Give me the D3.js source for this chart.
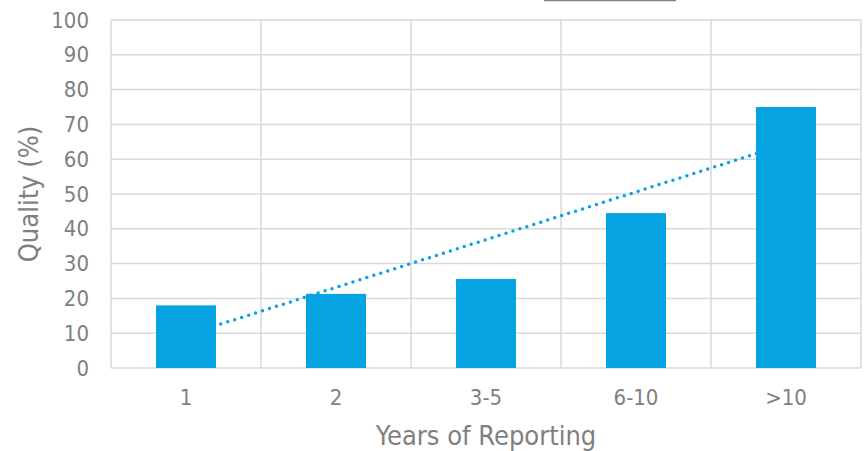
<!DOCTYPE html>
<html>
<head>
<meta charset="utf-8">
<script src="https://cdn.jsdelivr.net/npm/d3@7"></script>
<style>
  html, body { margin: 0; padding: 0; background: #fff; }
  svg { display: block; }
  text { font-family: "DejaVu Sans", sans-serif; font-stretch: condensed; fill: #7f7f7f; }
</style>
</head>
<body>
<svg id="chart" width="867" height="451"></svg>
<script>
// Reporting periods and average quality score per period
const categories = ["1", "2", "3-5", "6-10", ">10"];
const quality = [18, 21.3, 25.6, 44.5, 75];
const yTicks = [0, 10, 20, 30, 40, 50, 60, 70, 80, 90, 100];

const width = 867, height = 451;
const margin = { top: 20, right: 6, bottom: 83, left: 111 };
const svg = d3.select("#chart");

const x = d3.scaleBand()
  .domain(categories)
  .range([margin.left, width - margin.right])
  .paddingInner(0).paddingOuter(0);

const y = d3.scaleLinear()
  .domain([0, 100])
  .range([height - margin.bottom, margin.top]);

const gridColor = "#d9d9d9";

// Horizontal gridlines
svg.append("g")
  .selectAll("line")
  .data(yTicks)
  .join("line")
  .attr("x1", margin.left).attr("x2", width - margin.right)
  .attr("y1", d => y(d)).attr("y2", d => y(d))
  .attr("stroke", gridColor).attr("stroke-width", 1.5);

// Vertical gridlines at category boundaries
const bounds = categories.map(c => x(c)).concat([x(categories[categories.length - 1]) + x.bandwidth()]);
svg.append("g")
  .selectAll("line")
  .data(bounds)
  .join("line")
  .attr("x1", d => d).attr("x2", d => d)
  .attr("y1", y(100)).attr("y2", y(0))
  .attr("stroke", gridColor).attr("stroke-width", 1.5);

// Linear trendline (least squares over category index)
const n = quality.length;
const xs = d3.range(1, n + 1);
const mx = d3.mean(xs), my = d3.mean(quality);
const slope = d3.sum(xs, (v, i) => (v - mx) * (quality[i] - my)) / d3.sum(xs, v => (v - mx) ** 2);
const intercept = my - slope * mx;
const cx = i => x(categories[i]) + x.bandwidth() / 2;

svg.append("line")
  .attr("x1", cx(0)).attr("y1", y(intercept + slope * 1))
  .attr("x2", cx(n - 1)).attr("y2", y(intercept + slope * n))
  .attr("stroke", "#0aa3e0")
  .attr("stroke-width", 3.5)
  .attr("stroke-linecap", "round")
  .attr("stroke-dasharray", "0 7.3");

// Bars
const barW = x.bandwidth() * 0.4;
svg.append("g")
  .selectAll("rect")
  .data(quality)
  .join("rect")
  .attr("x", (d, i) => cx(i) - barW / 2)
  .attr("width", barW)
  .attr("y", d => y(d))
  .attr("height", d => y(0) - y(d))
  .attr("fill", "#05a3e1");

// Y axis labels
const yAxis = d3.axisLeft(y).tickValues(yTicks).tickSize(0).tickPadding(22);
svg.append("g")
  .attr("transform", `translate(${margin.left},0)`)
  .call(yAxis)
  .call(g => g.select(".domain").remove())
  .selectAll("text")
  .attr("font-size", 22)
  .attr("fill", "#7f7f7f")
  .style("font-family", "'DejaVu Sans', sans-serif");

// X axis labels
const xAxis = d3.axisBottom(x).tickSize(0).tickPadding(21);
svg.append("g")
  .attr("transform", `translate(0,${y(0)})`)
  .call(xAxis)
  .call(g => g.select(".domain").remove())
  .selectAll("text")
  .attr("font-size", 22)
  .attr("fill", "#7f7f7f")
  .style("font-family", "'DejaVu Sans', sans-serif");

// Axis titles
svg.append("text")
  .attr("x", (margin.left + width - margin.right) / 2)
  .attr("y", 445)
  .attr("text-anchor", "middle")
  .attr("font-size", 27)
  .text("Years of Reporting");

svg.append("text")
  .attr("transform", `translate(38,${(y(0) + y(100)) / 2}) rotate(-90)`)
  .attr("text-anchor", "middle")
  .attr("font-size", 27)
  .text("Quality (%)");

// Title underline at the top edge
svg.append("line")
  .attr("x1", 544).attr("x2", 676)
  .attr("y1", 0.5).attr("y2", 0.5)
  .attr("stroke", "#808080").attr("stroke-width", 1.5);
</script>
</body>
</html>
